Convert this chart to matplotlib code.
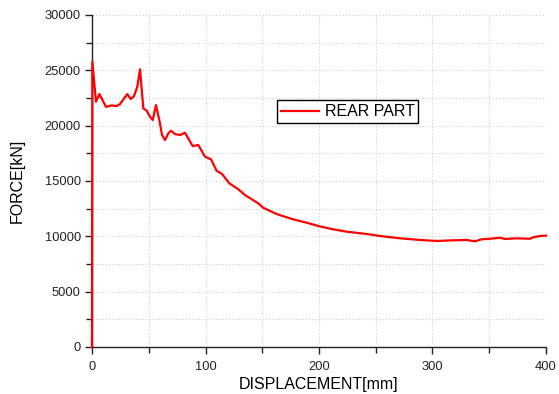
import matplotlib
matplotlib.use("Agg")
import matplotlib.pyplot as plt
from matplotlib.ticker import MultipleLocator

plt.rcParams['font.family'] = ['Liberation Sans', 'DejaVu Sans']

# displacement [mm] and force [kN]
displacement = [0, 0.3, 3.5, 6.5, 12.3, 17.3, 21.7, 24.7, 27.6, 31.1, 34.1, 37.0, 39.9,
                42.3, 45.2, 48.2, 51.1, 53.5, 56.4, 59.3, 61.7, 64.3, 67.2, 69.6, 73.1,
                77.5, 81.9, 84.8, 88.7, 93.7, 99.6, 104.8, 109.8, 114.6, 121.0, 128.9,
                134.8, 146.5, 150.9, 162.7, 177.4, 189.2, 199.4, 212.6, 224.4, 242.0,
                253.7, 271.4, 289.0, 303.7, 318.3, 330.0, 337.4, 343.3, 350.7, 359.5,
                363.9, 374.2, 385.9, 388.8, 394.7, 400.0]
force = [0, 25770, 22160, 22850, 21700, 21830, 21770, 21950, 22370, 22850, 22400, 22670,
         23510, 25090, 21560, 21350, 20800, 20510, 21860, 20510, 19150, 18700, 19300,
         19540, 19240, 19150, 19360, 18850, 18160, 18250, 17190, 16960, 15930, 15630,
         14790, 14250, 13730, 12980, 12580, 12010, 11530, 11230, 10930, 10630, 10420,
         10210, 10030, 9820, 9670, 9580, 9640, 9670, 9550, 9730, 9780, 9870, 9760,
         9820, 9780, 9910, 10030, 10060]

fig = plt.figure(figsize=(5.59, 3.94), dpi=100)
ax = fig.add_axes([0.1646, 0.1193, 0.8121, 0.8427])

ax.plot(displacement, force, color='red', linewidth=1.6, label='REAR PART',
        zorder=3, clip_on=False)

ax.set_xlim(0, 400)
ax.set_ylim(0, 30000)
ax.xaxis.set_major_locator(MultipleLocator(100))
ax.xaxis.set_minor_locator(MultipleLocator(50))
ax.yaxis.set_major_locator(MultipleLocator(5000))
ax.yaxis.set_minor_locator(MultipleLocator(2500))

ax.grid(which='both', color='#cccccc', linestyle=(0, (1, 2)), linewidth=0.8)
ax.set_axisbelow(True)

for side in ['top', 'right']:
    ax.spines[side].set_visible(False)
for side in ['left', 'bottom']:
    ax.spines[side].set_linewidth(1.0)
    ax.spines[side].set_color('#222222')

ax.tick_params(which='major', direction='out', length=5, width=1, labelsize=9.3, colors='#222222')
ax.tick_params(which='minor', direction='out', length=4, width=1, colors='#222222')
ax.tick_params(axis='x', which='major', pad=5)
ax.tick_params(axis='y', which='major', pad=3)

ax.set_xlabel('DISPLACEMENT[mm]', fontsize=11.5, labelpad=3)
ax.set_ylabel('FORCE[kN]', fontsize=11.5, labelpad=14)

leg = ax.legend(loc='center', bbox_to_anchor=(0.563, 0.709), fontsize=11.5,
                fancybox=False, framealpha=1, edgecolor='black', handlelength=2.4,
                borderpad=0.25, handletextpad=0.35, borderaxespad=0)
leg.get_frame().set_linewidth(1.0)

fig.savefig('out.png', dpi=100)
